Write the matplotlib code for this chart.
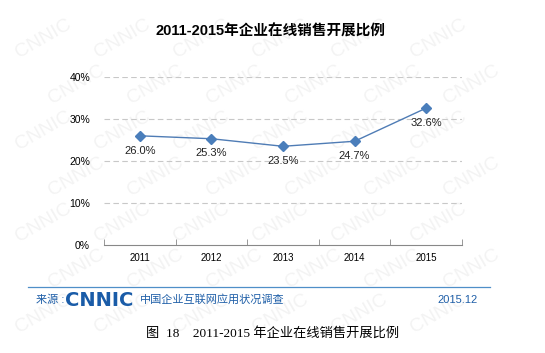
import matplotlib.pyplot as plt
import numpy as np

years = ['2011', '2012', '2013', '2014', '2015']
rates = [26.0, 25.3, 23.5, 24.7, 32.6]
yticks = [0, 10, 20, 30, 40]

cjk = ['Liberation Sans', 'Noto Sans CJK SC']
plt.rcParams['font.family'] = cjk

fig = plt.figure(figsize=(5.45, 3.53), dpi=100)
fig.patch.set_facecolor('white')

# faint CNNIC watermark, kept inside the figure
for row in range(7):
    for col in range(7):
        wx = 0.08 + col * 0.145 + (row % 2) * 0.06
        wy = 0.11 + row * 0.13
        if wx > 0.92:
            continue
        fig.text(wx, wy, 'CNNIC', fontsize=14, color='#f3f3f3',
                 rotation=30, ha='center', va='center', zorder=-10)

ax = fig.add_axes([104 / 545, 1 - 245 / 353, (462 - 104) / 545, (245 - 77) / 353])
ax.patch.set_alpha(0)
ax.set_zorder(5)
x = np.arange(len(years))
ax.plot(x, rates, color='#4f7cb5', lw=1.0, marker='D', ms=5,
        markerfacecolor='#4a7ebb', markeredgecolor='#4a7ebb', zorder=3)
for xi, v in zip(x, rates):
    ax.annotate('%.1f%%' % v, (xi, v), xytext=(0, -7), textcoords='offset points',
                ha='center', va='top', fontsize=8, color='#222222')

ax.set_xlim(-0.5, 4.5)
ax.set_ylim(0, 40)
ax.set_yticks(yticks)
ax.set_yticklabels(['%d%%' % t for t in yticks], fontsize=7.5)
ax.set_xticks(x)
ax.set_xticklabels(years, fontsize=7)
ax.set_xticks(np.arange(-0.5, 5, 1), minor=True)
ax.tick_params(axis='x', which='major', length=0, pad=6)
ax.tick_params(axis='x', which='minor', length=4, color='#888888', direction='in')
ax.tick_params(axis='y', length=0, pad=10)
for t in yticks[1:]:
    ax.axhline(t, color='#c8c8c8', lw=0.8, ls=(0, (5, 3)), zorder=1)
for s in ['top', 'right', 'left']:
    ax.spines[s].set_visible(False)
ax.spines['bottom'].set_color('#888888')

fig.text(0.497, 1 - 31 / 353, '2011-2015年企业在线销售开展比例', fontsize=10.5,
         fontweight='bold', ha='center', va='center', family=cjk)

# footer
fig.add_artist(plt.Line2D([28 / 545, 490 / 545], [1 - 287 / 353] * 2,
                          color='#4f8fc8', lw=0.9))
fig.text(36 / 545, 1 - 300 / 353, '来源 :', fontsize=8, color='#1f5fa8',
         va='center', family=cjk)
fig.text(65 / 545, 1 - 300 / 353, 'CNNIC', fontsize=14, fontweight='bold',
         color='#1a5ca8', va='center', family=['DejaVu Sans'])
fig.text(140 / 545, 1 - 300 / 353, '中国企业互联网应用状况调查', fontsize=8,
         color='#1f5fa8', va='center', family=cjk)
fig.text(478 / 545, 1 - 300 / 353, '2015.12', fontsize=8, color='#1f5fa8',
         va='center', ha='right', family=cjk)

fig.text(0.5, 1 - 333 / 353, '图  18    2011-2015 年企业在线销售开展比例',
         fontsize=9.5, ha='center', va='center',
         family=['Liberation Serif', 'Noto Sans CJK SC'])

fig.savefig('out.png', dpi=100)
